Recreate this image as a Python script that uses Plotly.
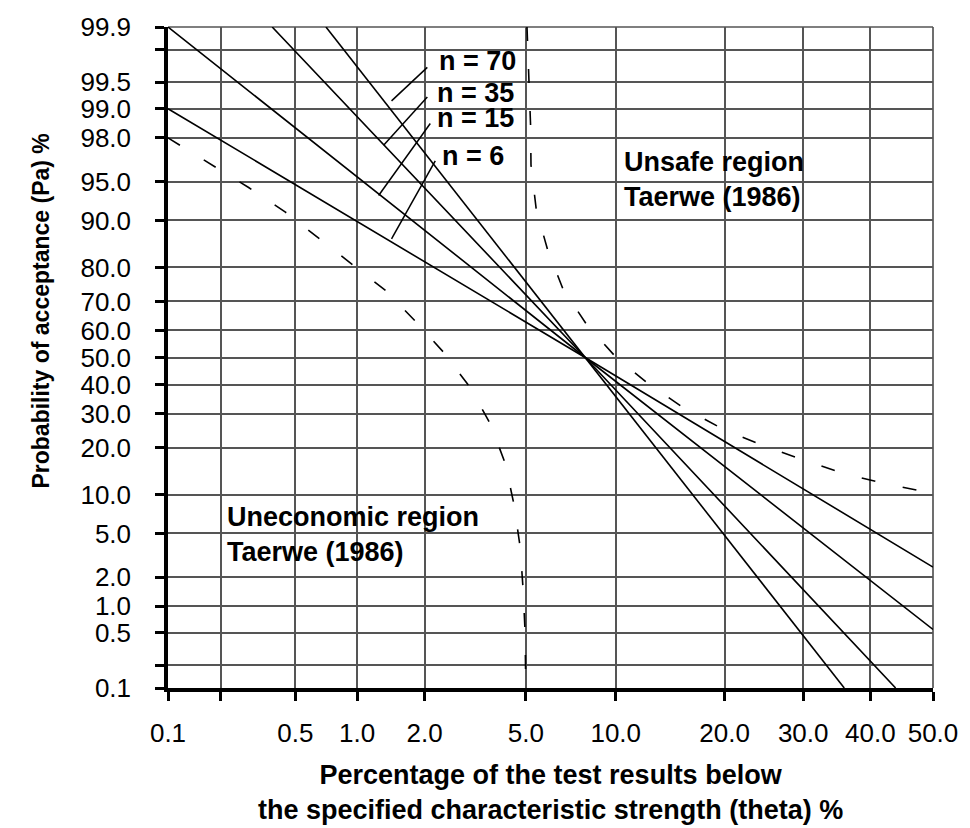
import math
import plotly.graph_objects as go

# ---------------- data ----------------
# OC curves: percentage below fck (theta, %) vs probability of acceptance (Pa, %)
theta_n6 = [0.1, 8.0, 50.0]
pa_n6 = [99.0, 50.0, 2.5]
theta_n15 = [0.1, 8.0, 50.0]
pa_n15 = [99.9, 50.0, 0.55]
theta_n35 = [0.38, 8.0, 44.0]
pa_n35 = [99.9, 50.0, 0.1]
theta_n70 = [0.71, 8.0, 36.0]
pa_n70 = [99.9, 50.0, 0.1]

# Taerwe (1986) boundaries
theta_uneconomic = [0.1, 0.18, 0.285, 0.445, 0.65, 0.94, 1.36, 1.83, 2.40, 3.08,
                    3.69, 4.20, 4.53, 4.77, 4.89, 4.97, 5.0]
pa_uneconomic = [98.0, 96.4, 94.4, 91.3, 86.9, 81.1, 73.3, 63.2, 52.0, 38.9,
                 26.7, 16.1, 8.4, 3.8, 1.49, 0.51, 0.1]
theta_unsafe = [5.05, 5.13, 5.2, 5.22, 5.45, 5.97, 6.75, 8.09, 10.0, 12.5,
                15.6, 19.7, 24.4, 29.8, 35.7, 42.3, 50.0]
pa_unsafe = [99.9, 99.52, 98.54, 96.4, 91.7, 84.4, 73.9, 62.1, 50.2, 40.3,
             32.1, 25.3, 20.7, 17.0, 14.0, 11.9, 10.2]

x_tick_values = [0.1, 0.2, 0.5, 1.0, 2.0, 5.0, 10.0, 20.0, 30.0, 40.0, 50.0]
x_tick_labels = ["0.1", "", "0.5", "1.0", "2.0", "5.0", "10.0", "20.0", "30.0", "40.0", "50.0"]
y_tick_values = [0.1, 0.2, 0.5, 1.0, 2.0, 5.0, 10.0, 20.0, 30.0, 40.0, 50.0, 60.0,
                 70.0, 80.0, 90.0, 95.0, 98.0, 99.0, 99.5, 99.8, 99.9]
y_tick_labels = ["0.1", "", "0.5", "1.0", "2.0", "5.0", "10.0", "20.0", "30.0", "40.0", "50.0",
                 "60.0", "70.0", "80.0", "90.0", "95.0", "98.0", "99.0", "99.5", "", "99.9"]


# ---------------- probability (normal-quantile) scale ----------------
def norm_ppf(p):
    a = [-3.969683028665376e+01, 2.209460984245205e+02, -2.759285104469687e+02,
         1.383577518672690e+02, -3.066479806614716e+01, 2.506628277459239e+00]
    b = [-5.447609879822406e+01, 1.615858368580409e+02, -1.556989798598866e+02,
         6.680131188771972e+01, -1.328068155288572e+01]
    c = [-7.784894002430293e-03, -3.223964580411365e-01, -2.400758277161838e+00,
         -2.549732539343734e+00, 4.374664141464968e+00, 2.938163982698783e+00]
    d = [7.784695709041462e-03, 3.224671290700398e-01, 2.445134137142996e+00,
         3.754408661907416e+00]
    plow = 0.02425
    if p < plow:
        q = math.sqrt(-2 * math.log(p))
        return (((((c[0]*q+c[1])*q+c[2])*q+c[3])*q+c[4])*q+c[5]) / \
               ((((d[0]*q+d[1])*q+d[2])*q+d[3])*q+1)
    if p <= 1 - plow:
        q = p - 0.5
        r = q * q
        return (((((a[0]*r+a[1])*r+a[2])*r+a[3])*r+a[4])*r+a[5])*q / \
               (((((b[0]*r+b[1])*r+b[2])*r+b[3])*r+b[4])*r+1)
    q = math.sqrt(-2 * math.log(1 - p))
    return -(((((c[0]*q+c[1])*q+c[2])*q+c[3])*q+c[4])*q+c[5]) / \
           ((((d[0]*q+d[1])*q+d[2])*q+d[3])*q+1)


def pz(values):
    return [norm_ppf(v / 100.0) for v in values]


FONT = "Liberation Sans, Arial, sans-serif"
W, H = 970, 828
ML, MR, MT, MB = 168, 32, 17, 140
PW, PH = W - ML - MR, H - MT - MB


def px(x, y):
    """pixel position -> paper coordinates (for decorations only)"""
    return (x - ML) / PW, (H - MB - y) / PH


fig = go.Figure()

solid = dict(color="black", width=1.6)
for th, pa in [(theta_n6, pa_n6), (theta_n15, pa_n15), (theta_n35, pa_n35), (theta_n70, pa_n70)]:
    fig.add_trace(go.Scatter(x=pz(th), y=pz(pa), mode="lines", line=solid, hoverinfo="skip"))

dashed = dict(color="black", width=1.6, dash="14px,28px")
fig.add_trace(go.Scatter(x=pz(theta_uneconomic), y=pz(pa_uneconomic), mode="lines",
                         line=dashed, hoverinfo="skip"))
fig.add_trace(go.Scatter(x=pz(theta_unsafe), y=pz(pa_unsafe), mode="lines",
                         line=dashed, hoverinfo="skip"))

grid_col = "#555555"
axis_common = dict(
    showgrid=True, gridcolor=grid_col, gridwidth=1.7,
    zeroline=False, showline=True, linecolor="black", linewidth=3.5,
    ticks="outside", ticklen=9, tickwidth=2.5, tickcolor="black",
    tickfont=dict(family=FONT, size=26, color="black"),
)

fig.update_xaxes(
    range=[norm_ppf(0.001), norm_ppf(0.5)],
    tickmode="array", tickvals=pz(x_tick_values), ticktext=x_tick_labels,
    ticklabelstandoff=10, **axis_common)
fig.update_yaxes(
    range=[norm_ppf(0.001), norm_ppf(0.999)],
    tickmode="array", tickvals=pz(y_tick_values), ticktext=y_tick_labels,
    ticklabelstandoff=19, **axis_common)

shapes = [
    dict(type="line", xref="paper", yref="paper", x0=1, x1=1, y0=0, y1=1,
         line=dict(color=grid_col, width=1.7), layer="below"),
    dict(type="line", xref="paper", yref="paper", x0=0, x1=1, y0=1, y1=1,
         line=dict(color=grid_col, width=1.7), layer="below"),
]
leaders = [((429, 58), (393, 92)), ((429, 88), (385, 137)),
           ((432, 115), (380, 188)), ((437, 153), (393, 232))]
for (a, b) in leaders:
    x0, y0 = px(*a)
    x1, y1 = px(*b)
    shapes.append(dict(type="line", xref="paper", yref="paper", x0=x0, y0=y0, x1=x1, y1=y1,
                       line=dict(color="black", width=1.5)))

annotations = []
bold = dict(family=FONT, size=27, color="black")
for txt, (x, y) in [("n = 70", (439, 52)), ("n = 35", (437, 84)),
                    ("n = 15", (437, 109)), ("n = 6", (442, 148))]:
    ax_, ay_ = px(x, y)
    annotations.append(dict(text="<b>%s</b>" % txt, x=ax_, y=ay_, xref="paper", yref="paper",
                            xanchor="left", yanchor="middle", showarrow=False, font=bold))

for txt, (x, y) in [("Unsafe region<br>Taerwe (1986)", (625, 172)),
                    ("Uneconomic region<br>Taerwe (1986)", (225, 532))]:
    ax_, ay_ = px(x, y)
    annotations.append(dict(text="<b>%s</b>" % txt, x=ax_, y=ay_, xref="paper", yref="paper",
                            xanchor="left", yanchor="middle", align="left",
                            showarrow=False, font=bold))

tx, ty = px(553, 794)
annotations.append(dict(
    text="<b>Percentage of the test results below<br>the specified characteristic strength (theta) %</b>",
    x=tx, y=ty, xref="paper", yref="paper", xanchor="center", yanchor="middle",
    align="center", showarrow=False, font=bold))

yx, yy = px(40, 305)
annotations.append(dict(
    text="<b>Probability of acceptance (Pa) %</b>", textangle=-90,
    x=yx, y=yy, xref="paper", yref="paper", xanchor="center", yanchor="middle",
    showarrow=False, font=dict(family=FONT, size=23, color="black")))

fig.update_layout(
    width=W, height=H, margin=dict(l=ML, r=MR, t=MT, b=MB),
    paper_bgcolor="white", plot_bgcolor="white", showlegend=False,
    shapes=shapes, annotations=annotations,
    font=dict(family=FONT, color="black"),
)

fig.write_html("out.html")
